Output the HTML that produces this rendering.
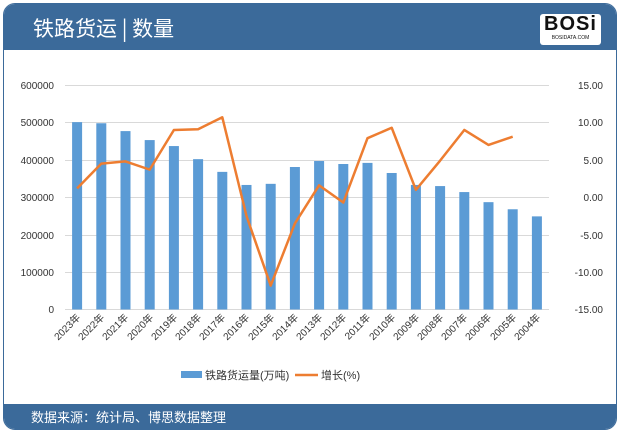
<!DOCTYPE html>
<html><head><meta charset="utf-8"><style>
html,body{margin:0;padding:0;background:#fff;}
body{width:622px;height:435px;overflow:hidden;position:relative;font-family:"Liberation Sans","Noto Sans CJK SC",sans-serif;}
.card{position:absolute;left:3px;top:3px;width:614px;height:427px;border:1px solid #3b6a9a;border-radius:12px;overflow:hidden;background:#fff;box-sizing:border-box;}
.hdr{position:absolute;left:0;top:0;width:100%;height:46px;background:#3b6a9a;}
.hdr .t{position:absolute;left:29px;top:9px;color:#fff;font-size:21px;font-family:"Noto Sans CJK SC",sans-serif;}
.logo{position:absolute;right:15px;top:10px;width:61px;height:31px;background:#fff;border-radius:3px;text-align:center;}
.logo b{display:block;font-size:20px;line-height:21px;color:#111;font-family:"Liberation Sans",sans-serif;font-weight:900;letter-spacing:1px;}
.logo i{display:block;font-size:5px;font-style:normal;color:#111;}
.ftr{position:absolute;left:0;bottom:0;width:100%;height:25px;background:#3b6a9a;color:#fff;font-size:13px;}
.ftr span{position:absolute;left:27px;top:3px;font-family:"Noto Sans CJK SC",sans-serif;}
svg{position:absolute;left:0;top:0;}
</style></head><body>
<div class="card">
<div class="hdr"><div class="t">铁路货运 | 数量</div><div class="logo"><b>BOSi</b><i>BOSIDATA.COM</i></div></div>
<div class="ftr"><span>数据来源：统计局、博思数据整理</span></div>
</div>
<svg width="622" height="435" id="s" font-family="Liberation Sans, Noto Sans CJK SC, sans-serif" font-size="10" fill="#333">
<g stroke="#d9d9d9" stroke-width="1">
<line x1="65" x2="549" y1="85.5" y2="85.5"/><line x1="65" x2="549" y1="122.5" y2="122.5"/>
<line x1="65" x2="549" y1="160.5" y2="160.5"/><line x1="65" x2="549" y1="197.5" y2="197.5"/>
<line x1="65" x2="549" y1="235.5" y2="235.5"/><line x1="65" x2="549" y1="272.5" y2="272.5"/>
<line x1="65" x2="549" y1="309.5" y2="309.5"/>
</g>
<g text-anchor="end">
<text x="54" y="89">600000</text><text x="54" y="126">500000</text><text x="54" y="164">400000</text>
<text x="54" y="201">300000</text><text x="54" y="239">200000</text><text x="54" y="276">100000</text><text x="54" y="313">0</text>
<text x="603" y="89">15.00</text><text x="603" y="126">10.00</text><text x="603" y="164">5.00</text>
<text x="603" y="201">0.00</text><text x="603" y="239">-5.00</text><text x="603" y="276">-10.00</text><text x="603" y="313">-15.00</text>
</g>
<g id="bars" fill="#5b9bd5"></g>
<polyline id="ln" fill="none" stroke="#ed7d31" stroke-width="2.5" stroke-linejoin="round"/>
<g text-anchor="end" font-size="10">
<text transform="translate(81,318) rotate(-45)">2023年</text>
<text transform="translate(105,318) rotate(-45)">2022年</text>
<text transform="translate(129,318) rotate(-45)">2021年</text>
<text transform="translate(154,318) rotate(-45)">2020年</text>
<text transform="translate(178,318) rotate(-45)">2019年</text>
<text transform="translate(202,318) rotate(-45)">2018年</text>
<text transform="translate(226,318) rotate(-45)">2017年</text>
<text transform="translate(250,318) rotate(-45)">2016年</text>
<text transform="translate(275,318) rotate(-45)">2015年</text>
<text transform="translate(299,318) rotate(-45)">2014年</text>
<text transform="translate(323,318) rotate(-45)">2013年</text>
<text transform="translate(347,318) rotate(-45)">2012年</text>
<text transform="translate(371,318) rotate(-45)">2011年</text>
<text transform="translate(396,318) rotate(-45)">2010年</text>
<text transform="translate(420,318) rotate(-45)">2009年</text>
<text transform="translate(444,318) rotate(-45)">2008年</text>
<text transform="translate(468,318) rotate(-45)">2007年</text>
<text transform="translate(492,318) rotate(-45)">2006年</text>
<text transform="translate(517,318) rotate(-45)">2005年</text>
<text transform="translate(541,318) rotate(-45)">2004年</text>
</g>
<rect x="181" y="371" width="21" height="7" fill="#5b9bd5"/>
<text x="205" y="379" font-size="11">铁路货运量(万吨)</text>
<line x1="295" x2="318" y1="375" y2="375" stroke="#ed7d31" stroke-width="2.5"/>
<text x="321" y="379" font-size="11">增长(%)</text>
</svg>
<script>
var b=[501,498,477,453,437,402,368,333,336,381,397,389,392,365,333,330,314,287,268,249];
var g=[1.2,4.5,4.8,3.7,9.0,9.1,10.7,-2.5,-11.8,-3.5,1.6,-0.7,7.9,9.3,1.0,4.9,9.0,7.0,8.1];
var G=document.getElementById('bars'),h='',p=[];
for(var i=0;i<20;i++){var c=77.1+24.2*i,y=309.5-b[i]*0.374;h+='<rect x="'+(c-5)+'" y="'+y+'" width="10" height="'+(309.5-y)+'"/>';
if(i<19)p.push(c+','+(197.3-g[i]*7.48));}
G.innerHTML=h;document.getElementById('ln').setAttribute('points',p.join(' '));
</script>
</body></html>
